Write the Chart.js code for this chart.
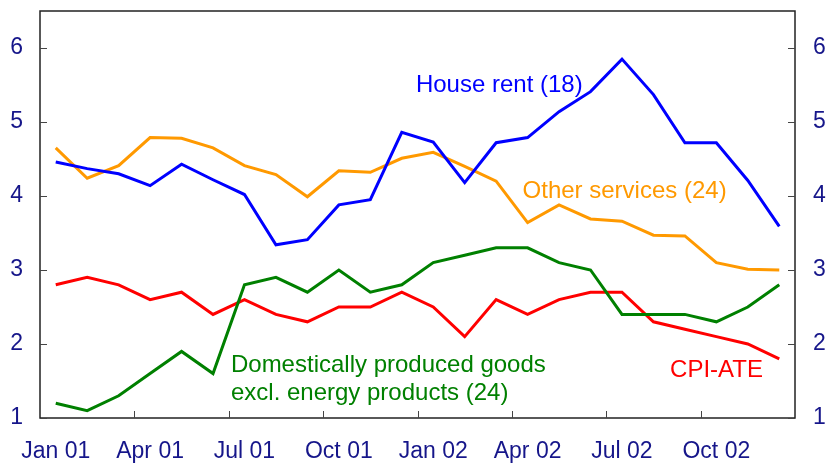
<!DOCTYPE html>
<html>
<head>
<meta charset="utf-8">
<script src="https://cdn.jsdelivr.net/npm/chart.js@4.4.1/dist/chart.umd.min.js"></script>
<style>
  body { margin: 0; background: #fff; }
  #wrap { width: 831px; height: 465px; position: relative; }
</style>
</head>
<body>
<div id="wrap"><canvas id="myChart"></canvas></div>
<script>
// months Jan 01 .. Dec 02
const months = ['Jan 01', 'Feb 01', 'Mar 01', 'Apr 01', 'May 01', 'Jun 01',
  'Jul 01', 'Aug 01', 'Sep 01', 'Oct 01', 'Nov 01', 'Dec 01',
  'Jan 02', 'Feb 02', 'Mar 02', 'Apr 02', 'May 02', 'Jun 02',
  'Jul 02', 'Aug 02', 'Sep 02', 'Oct 02', 'Nov 02', 'Dec 02'];

const houseRent = [4.46, 4.37, 4.30, 4.14, 4.43, 4.22, 4.02, 3.34, 3.41, 3.88, 3.95, 4.86,
  4.73, 4.18, 4.72, 4.79, 5.14, 5.41, 5.85, 5.37, 4.72, 4.72, 4.21, 3.59];
const otherServices = [4.65, 4.24, 4.41, 4.79, 4.78, 4.65, 4.41, 4.29, 3.99, 4.34, 4.32, 4.51,
  4.59, 4.40, 4.20, 3.64, 3.88, 3.69, 3.66, 3.47, 3.46, 3.10, 3.01, 3.00];
const domesticGoods = [1.2, 1.1, 1.3, 1.6, 1.9, 1.6, 2.8, 2.9, 2.7, 3.0, 2.7, 2.8,
  3.1, 3.2, 3.3, 3.3, 3.1, 3.0, 2.4, 2.4, 2.4, 2.3, 2.5, 2.8];
const cpiAte = [2.8, 2.9, 2.8, 2.6, 2.7, 2.4, 2.6, 2.4, 2.3, 2.5, 2.5, 2.7,
  2.5, 2.1, 2.6, 2.4, 2.6, 2.7, 2.7, 2.3, 2.2, 2.1, 2.0, 1.8];

const yTicks = [1, 2, 3, 4, 5, 6];

const tickColor = '#16168a';
const fontFamily = '"Liberation Sans", Arial, sans-serif';

// series labels inside the plot, placed in data space (category index, value)
const seriesLabels = [
  { text: ['House rent (18)'], x: 11.45, y: 5.50, color: '#0000ff' },
  { text: ['Other services (24)'], x: 14.84, y: 4.06, color: '#ff9900' },
  { text: ['Domestically produced goods', 'excl. energy products (24)'], x: 5.57, y: 1.71, color: '#008000' },
  { text: ['CPI-ATE'], x: 19.53, y: 1.64, color: '#ff0000' }
];

// frame, inward tick marks and series labels
const framePlugin = {
  id: 'frame',
  afterDatasetsDraw(chart) {
    const ctx = chart.ctx;
    const a = chart.chartArea;
    const xs = chart.scales.x;
    const ys = chart.scales.y;
    ctx.save();
    ctx.strokeStyle = '#222';
    ctx.lineWidth = 1.5;
    ctx.strokeRect(a.left, a.top, a.right - a.left, a.bottom - a.top);

    ctx.lineWidth = 1;
    ctx.strokeStyle = '#444';
    ctx.beginPath();
    const half = (xs.getPixelForValue(1) - xs.getPixelForValue(0)) / 2;
    for (let i = 3; i < months.length; i += 3) {
      const px = Math.round(xs.getPixelForValue(i) - half) + 0.5;
      ctx.moveTo(px, a.bottom);
      ctx.lineTo(px, a.bottom - 7);
    }
    yTicks.forEach(v => {
      const py = Math.round(ys.getPixelForValue(v)) + 0.5;
      ctx.moveTo(a.left, py);
      ctx.lineTo(a.left + 7, py);
      ctx.moveTo(a.right, py);
      ctx.lineTo(a.right - 7, py);
    });
    ctx.stroke();

    ctx.font = '24px ' + fontFamily;
    ctx.textAlign = 'left';
    ctx.textBaseline = 'middle';
    seriesLabels.forEach(l => {
      ctx.fillStyle = l.color;
      const px = xs.getPixelForValue(l.x);
      const py = ys.getPixelForValue(l.y);
      l.text.forEach((t, k) => ctx.fillText(t, px, py + k * 28));
    });
    ctx.restore();
  }
};

// no extra room for overflowing labels
function noPad(s) {
  s.paddingTop = 0;
  s.paddingBottom = 0;
  s.paddingLeft = 0;
  s.paddingRight = 0;
}

const ctx = document.getElementById('myChart');

new Chart(ctx, {
  type: 'line',
  data: {
    labels: months,
    datasets: [
      { label: 'House rent (18)', data: houseRent, borderColor: '#0000ff' },
      { label: 'Other services (24)', data: otherServices, borderColor: '#ff9900' },
      { label: 'Domestically produced goods excl. energy products (24)', data: domesticGoods, borderColor: '#008000' },
      { label: 'CPI-ATE', data: cpiAte, borderColor: '#ff0000' }
    ]
  },
  options: {
    responsive: true,
    maintainAspectRatio: false,
    animation: false,
    datasets: {
      line: { borderWidth: 3, pointRadius: 0, tension: 0, fill: false }
    },
    layout: { padding: { top: 11, right: 0, left: 0, bottom: 0 } },
    plugins: {
      legend: { display: false },
      tooltip: { enabled: false }
    },
    scales: {
      x: {
        type: 'category',
        offset: true,
        grid: { display: false, drawTicks: false },
        border: { display: false },
        ticks: {
          autoSkip: false,
          maxRotation: 0,
          padding: 20,
          color: tickColor,
          font: { family: fontFamily, size: 23 },
          callback: function (val, idx) {
            return idx % 3 === 0 ? this.getLabelForValue(val) : '';
          }
        },
        afterFit: s => { s.height = 47; noPad(s); }
      },
      y: {
        position: 'left',
        min: 1,
        max: 6.5,
        grid: { display: false, drawTicks: false },
        border: { display: false },
        ticks: {
          stepSize: 1,
          padding: 17,
          color: tickColor,
          font: { family: fontFamily, size: 23 },
          callback: v => yTicks.includes(v) ? v : ''
        },
        afterFit: s => { s.width = 40; noPad(s); }
      },
      y2: {
        position: 'right',
        min: 1,
        max: 6.5,
        grid: { display: false, drawTicks: false },
        border: { display: false },
        ticks: {
          stepSize: 1,
          padding: 18,
          color: tickColor,
          font: { family: fontFamily, size: 23 },
          callback: v => yTicks.includes(v) ? v : ''
        },
        afterFit: s => { s.width = 36; noPad(s); }
      }
    }
  },
  plugins: [framePlugin]
});
</script>
</body>
</html>
